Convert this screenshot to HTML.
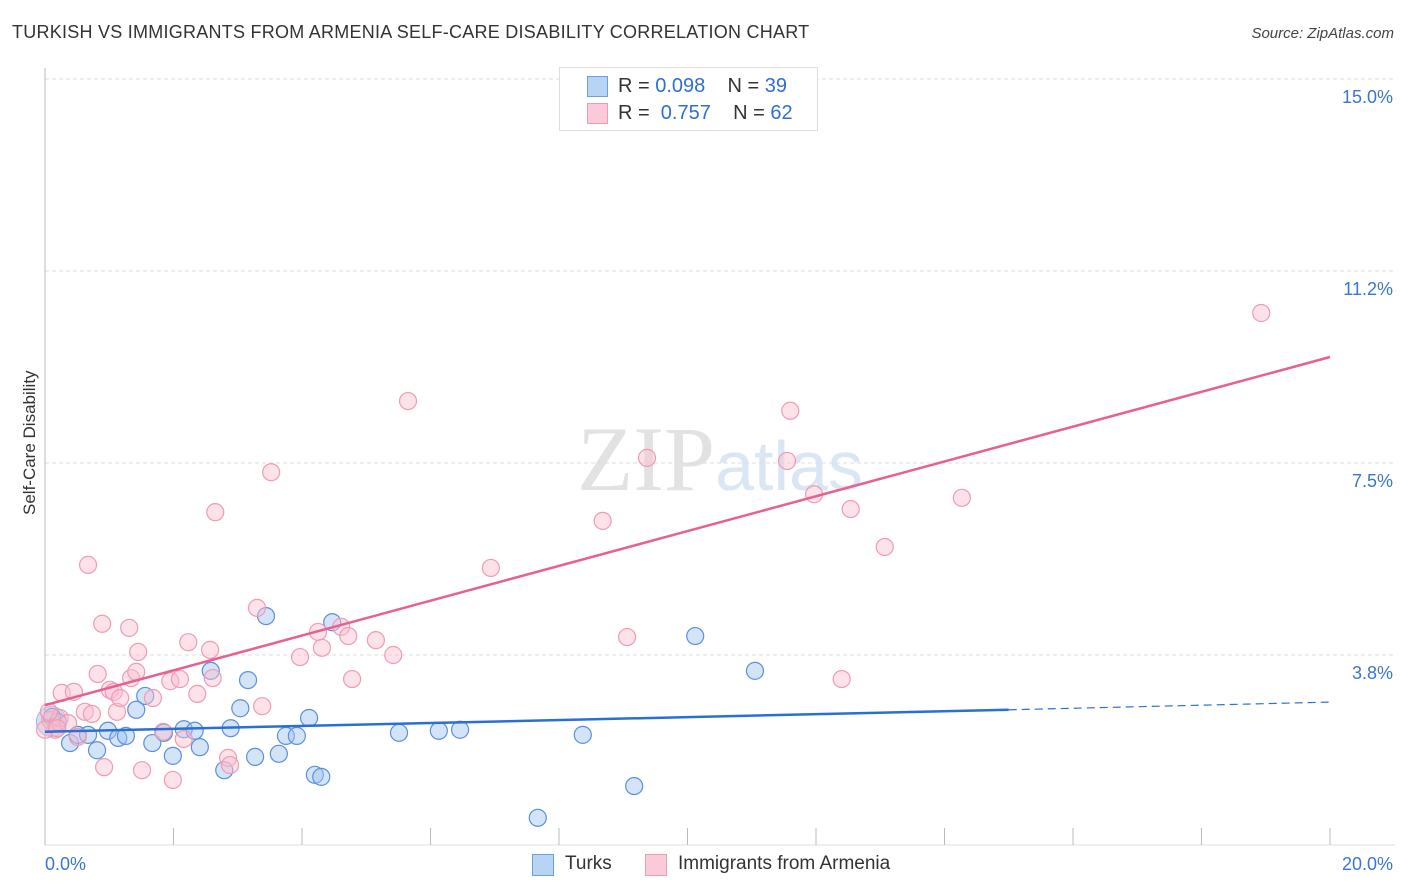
<!DOCTYPE html>
<html><head><meta charset="utf-8"><style>
body{margin:0;background:#fff;font-family:"Liberation Sans",sans-serif;}
#wrap{position:relative;width:1406px;height:892px;overflow:hidden}
.t{position:absolute;white-space:nowrap}
</style></head><body>
<div id="wrap">
<div class="t" style="left:12px;top:22px;font-size:18px;color:#333;letter-spacing:0.25px">TURKISH VS IMMIGRANTS FROM ARMENIA SELF-CARE DISABILITY CORRELATION CHART</div>
<div class="t" style="right:12px;top:25px;font-size:15px;color:#444;font-style:italic">Source: ZipAtlas.com</div>
<svg id="svg" width="1406" height="892" style="position:absolute;left:0;top:0">
<text x="720" y="490" text-anchor="middle" font-family="Liberation Serif,serif" font-size="92" fill="#e2e2e2">ZIP<tspan fill="#dbe6f5" font-family="Liberation Sans,sans-serif" font-size="70">atlas</tspan></text>
</svg>
<div class="t" style="left:-30px;top:445px;font-size:17px;color:#333;transform:rotate(-90deg);transform-origin:center;width:120px;text-align:center">Self-Care Disability</div>
<div style="position:absolute;left:559px;top:67px;width:257px;height:62px;border:1px solid #ddd;background:#fff">
 <div style="position:absolute;left:27px;top:8px;width:19px;height:19px;background:#b8d4f4;border:1px solid #6e9fdc"></div>
 <div class="t" style="left:58px;top:7px;font-size:20px;color:#333">R = <span style="color:#2f6fd0">0.098</span>&nbsp;&nbsp;&nbsp; N = <span style="color:#2f6fd0">39</span></div>
 <div style="position:absolute;left:27px;top:35px;width:19px;height:19px;background:#fbcad8;border:1px solid #f09ab3"></div>
 <div class="t" style="left:58px;top:34px;font-size:20px;color:#333">R = &nbsp;<span style="color:#2f6fd0">0.757</span>&nbsp;&nbsp;&nbsp; N = <span style="color:#2f6fd0">62</span></div>
</div>
<div style="position:absolute;left:532px;top:852px;height:26px;font-size:19px;color:#333">
 <div style="position:absolute;left:0;top:2px;width:20px;height:20px;background:#b8d4f4;border:1px solid #6e9fdc"></div>
 <div class="t" style="left:33px;top:1px">Turks</div>
 <div style="position:absolute;left:113px;top:2px;width:20px;height:20px;background:#fbcad8;border:1px solid #f09ab3"></div>
 <div class="t" style="left:146px;top:1px">Immigrants from Armenia</div>
</div>
</div>
<script>
const blueX=[0.11,0.20,0.39,0.51,0.67,0.81,0.98,1.14,1.26,1.42,1.56,1.67,1.85,1.99,2.16,2.33,2.41,2.58,2.79,2.89,3.04,3.16,3.27,3.44,3.64,3.75,3.92,4.11,4.20,4.30,4.47,5.51,6.13,6.46,7.67,8.37,9.17,10.12,11.05];
const blueY=[2.54,2.44,2.03,2.19,2.19,1.89,2.27,2.13,2.17,2.68,2.95,2.03,2.23,1.78,2.30,2.27,1.95,3.44,1.50,2.32,2.71,3.26,1.76,4.51,1.82,2.17,2.17,2.52,1.41,1.37,4.39,2.23,2.27,2.29,0.57,2.19,1.19,4.12,3.44];
const pinkX=[0.08,0.16,0.23,0.26,0.36,0.45,0.51,0.62,0.67,0.73,0.82,0.89,0.92,1.01,1.07,1.12,1.17,1.31,1.34,1.42,1.45,1.51,1.68,1.84,1.95,1.99,2.10,2.16,2.23,2.37,2.57,2.61,2.65,2.85,2.88,3.38,3.30,3.52,3.97,4.25,4.31,4.61,4.72,4.78,5.15,5.42,5.65,6.94,8.68,9.06,9.37,11.55,11.60,11.97,12.40,12.54,13.07,14.27,18.93,0.06,0.0,0.19];
const pinkY=[2.48,2.29,2.52,3.01,2.42,3.03,2.15,2.64,5.51,2.60,3.38,4.36,1.56,3.07,3.03,2.64,2.91,4.28,3.30,3.42,3.81,1.50,2.91,2.25,3.24,1.31,3.28,2.11,4.00,2.99,3.85,3.30,6.54,1.74,1.60,2.75,4.67,7.32,3.71,4.20,3.89,4.30,4.12,3.28,4.04,3.75,8.71,5.45,6.37,4.10,7.60,7.54,8.52,6.89,3.28,6.60,5.86,6.82,10.43,2.64,2.29,2.32];
const yTicks=[3.8,7.5,11.2,15.0];
const yTickLabels=["3.8%","7.5%","11.2%","15.0%"];
const xTicks=[0,2,4,6,8,10,12,14,16,18,20];
const pinkTrend=[2.77,9.57];
const blueTrend=[2.25,2.68,2.83];
const X=v=>45+v*64.25, Y=v=>847-v*51.2;
const svg=document.getElementById('svg'),NS='http://www.w3.org/2000/svg';
function mk(t,a){const e=document.createElementNS(NS,t);for(const k in a)e.setAttribute(k,a[k]);svg.appendChild(e);return e;}
yTicks.forEach((v,i)=>{const yy=Y(v===3.8?3.75:v===11.2?11.25:v);
 const g=mk('line',{x1:45,x2:1395,y1:yy,y2:yy,stroke:'#ddd','stroke-dasharray':'4,3'});
 
 
 const t=mk('text',{x:1393,y:yy+24,'text-anchor':'end','font-size':18,fill:'#3a75d4'});t.textContent=yTickLabels[i];
 
 
});
const ax=mk('line',{x1:45,x2:45,y1:68,y2:845,stroke:'#bbb'});


const bx=mk('line',{x1:45,x2:1395,y1:845,y2:845,stroke:'#ddd'});


xTicks.forEach(v=>{const l=mk('line',{x1:X(v),x2:X(v),y1:828,y2:845,stroke:'#bbb'});
 
 });
[[0,'0.0%','start',45],[20,'20.0%','end',1393]].forEach(a=>{const t=mk('text',{x:a[3],y:870,'text-anchor':a[2],'font-size':18,fill:'#3a75d4'});t.textContent=a[1];
 
 });
const bc=mk('circle',{cx:X(0.1),cy:Y(2.45),r:15,fill:'rgba(140,170,220,0.35)',stroke:'rgba(80,120,200,0.5)'});


blueX.forEach((x,i)=>{const c=mk('circle',{cx:X(x),cy:Y(blueY[i]),r:8.5,fill:'rgba(160,195,240,0.45)',stroke:'#5b8fdc','stroke-width':1.2});
 
 });
pinkX.forEach((x,i)=>{const c=mk('circle',{cx:X(x),cy:Y(pinkY[i]),r:8.5,fill:'rgba(250,190,208,0.45)',stroke:'#f09ab3','stroke-width':1.2});
 
 });
const pl=mk('line',{x1:X(0),y1:Y(pinkTrend[0]),x2:X(20),y2:Y(pinkTrend[1]),stroke:'#e8608e','stroke-width':2.5});


const bl=mk('line',{x1:X(0),y1:Y(blueTrend[0]),x2:X(15),y2:Y(blueTrend[1]),stroke:'#2a6fd6','stroke-width':2.5});


const bd=mk('line',{x1:X(15),y1:Y(blueTrend[1]),x2:X(20),y2:Y(blueTrend[2]),stroke:'#2a6fd6','stroke-width':1.2,'stroke-dasharray':'8,5'});


</script>
</body></html>
